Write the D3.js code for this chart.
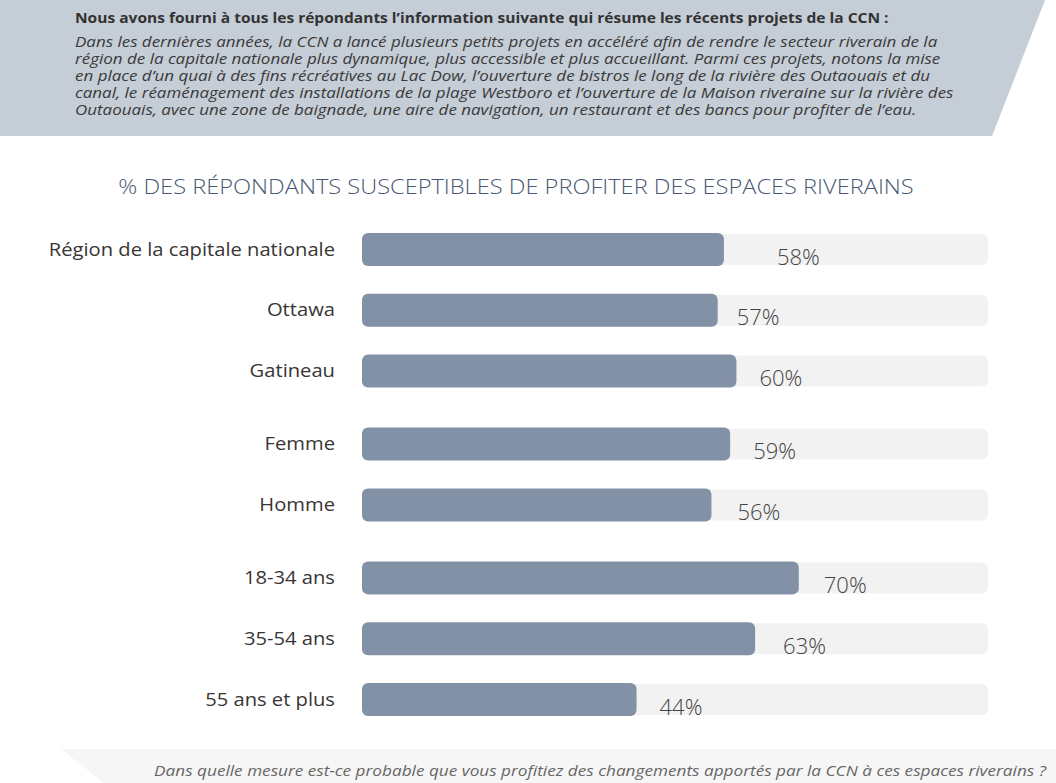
<!DOCTYPE html>
<html>
<head>
<meta charset="utf-8">
<script src="https://d3js.org/d3.v7.min.js"></script>
<style>
  body { margin: 0; background: #fff; }
  svg { display: block; font-family: "Open Sans", sans-serif; }
</style>
</head>
<body>
<div id="chart"></div>
<script>
// data
var categories = ["Région de la capitale nationale", "Ottawa", "Gatineau",
                  "Femme", "Homme",
                  "18-34 ans", "35-54 ans", "55 ans et plus"];
var values = [58, 57, 60, 59, 56, 70, 63, 44];
var groups = [0, 0, 0, 1, 1, 2, 2, 2];

var title = "% DES RÉPONDANTS SUSCEPTIBLES DE PROFITER DES ESPACES RIVERAINS";
var introTitle = "Nous avons fourni à tous les répondants l’information suivante qui résume les récents projets de la CCN :";
var introLines = [
  "Dans les dernières années, la CCN a lancé plusieurs petits projets en accéléré afin de rendre le secteur riverain de la",
  "région de la capitale nationale plus dynamique, plus accessible et plus accueillant. Parmi ces projets, notons la mise",
  "en place d’un quai à des fins récréatives au Lac Dow, l’ouverture de bistros le long de la rivière des Outaouais et du",
  "canal, le réaménagement des installations de la plage Westboro et l’ouverture de la Maison riveraine sur la rivière des",
  "Outaouais, avec une zone de baignade, une aire de navigation, un restaurant et des bancs pour profiter de l’eau."
];
var question = "Dans quelle mesure est-ce probable que vous profitiez des changements apportés par la CCN à ces espaces riverains ?";

var width = 1056, height = 783;

// the original font is wider than Open Sans, so widen the text a bit
function stretch(sel, k) {
  sel.each(function() {
    var w = this.getComputedTextLength();
    d3.select(this)
      .attr("textLength", w * k)
      .attr("lengthAdjust", "spacingAndGlyphs");
  });
}

var svg = d3.select("#chart").append("svg")
  .attr("width", width)
  .attr("height", height);

// header band
svg.append("polygon")
  .attr("points", "0,0 1045,0 992,136 0,136")
  .attr("fill", "#c5cdd6");

svg.append("text")
  .attr("x", 75).attr("y", 23)
  .attr("font-size", 13.8).attr("font-weight", 700)
  .attr("fill", "#333")
  .text(introTitle)
  .call(stretch, 1.125);

svg.append("g").selectAll("text")
  .data(introLines)
  .enter().append("text")
    .attr("x", 75)
    .attr("y", function(d, i) { return 47 + i * 17; })
    .attr("font-size", 14.5)
    .attr("font-style", "italic")
    .attr("fill", "#3a3a3a")
    .text(function(d) { return d; })
    .call(stretch, 1.17);

// chart title
svg.append("text")
  .attr("x", 516).attr("y", 194)
  .attr("text-anchor", "middle")
  .attr("font-size", 20)
  .attr("font-weight", 300)
  .attr("fill", "#4a5874")
  .text(title)
  .call(stretch, 1.18);

// scales
var x = d3.scaleLinear().domain([0, 100]).range([362, 986]);
var slot = function(i) { return i + groups[i] * 0.2; };
var y = d3.scaleLinear().domain([0, 7.4]).range([233, 683]);
var barH = 33;

var rows = svg.append("g").selectAll("g")
  .data(values)
  .enter().append("g")
    .attr("transform", function(d, i) { return "translate(0," + y(slot(i)) + ")"; });

// background track
rows.append("rect")
  .attr("x", x(0))
  .attr("y", 1)
  .attr("width", x(100) - x(0) + 2)
  .attr("height", barH - 2)
  .attr("rx", 6)
  .attr("fill", "#f2f2f2");

// value bar
rows.append("rect")
  .attr("x", x(0))
  .attr("width", function(d) { return x(d) - x(0); })
  .attr("height", barH)
  .attr("rx", 6)
  .attr("fill", "#8391a7");

// category labels
rows.append("text")
  .attr("x", 335)
  .attr("y", barH / 2 + 6)
  .attr("text-anchor", "end")
  .attr("font-size", 18)
  .attr("fill", "#3a3535")
  .text(function(d, i) { return categories[i]; })
  .call(stretch, 1.12);

// value labels (the first one sits further right in the original)
var labelNudge = [30, -4, 0, 0, 3, 2, 5, 0];
rows.append("text")
  .attr("x", function(d, i) { return x(d) + 23 + labelNudge[i]; })
  .attr("y", barH / 2 + 15)
  .attr("font-size", 22)
  .attr("font-weight", 300)
  .attr("fill", "#444")
  .text(function(d) { return d + "%"; });

// footer band and question
svg.append("polygon")
  .attr("points", "61,749 " + width + ",749 " + width + "," + height + " 104," + height)
  .attr("fill", "#f6f6f6");

svg.append("text")
  .attr("x", 1046).attr("y", 776)
  .attr("text-anchor", "end")
  .attr("font-size", 14.5)
  .attr("font-style", "italic")
  .attr("fill", "#666")
  .text(question)
  .call(stretch, 1.185);
</script>
</body>
</html>
